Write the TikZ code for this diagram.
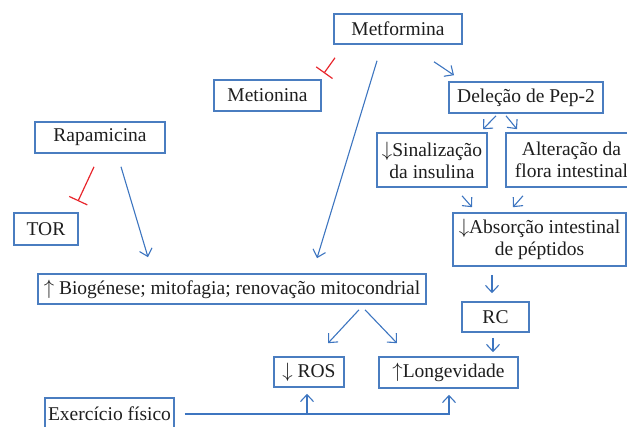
\documentclass[tikz,border=0pt]{standalone}
\usepackage{fontspec}
\setmainfont{Liberation Serif}
\usetikzlibrary{arrows.meta,calc}
\definecolor{frame}{HTML}{4A7DC0}
\definecolor{link}{HTML}{3D75C0}
\definecolor{stopred}{HTML}{E8262C}
\definecolor{ink}{HTML}{1E1E1E}
\newcommand{\up}{$\uparrow$}
\newcommand{\down}{$\downarrow$}

\begin{document}
\begin{tikzpicture}[x=1pt,y=-1pt,
  box/.style={draw=frame,line width=1.6pt,inner sep=0pt,align=center,text=ink,font=\fontsize{19.5}{22}\selectfont},
  arr/.style={link,line width=1.1pt,-{Straight Barb[length=7pt,width=13pt]}},
  inhib/.style={stopred,line width=1.2pt,-{Bar[width=20pt]}}]
\useasboundingbox (0,0) rectangle (627,427);
% drugs and targets
\node[box,minimum width=128pt,minimum height=30pt] (metf) at (398,29) {Metformina};
\node[box,minimum width=107pt,minimum height=31pt] (meti) at (267.5,95.5) {Metionina};
\node[box,minimum width=154pt,minimum height=31pt] (del) at (526,97.5) {Deleção de Pep-2};
\node[box,minimum width=130pt,minimum height=31pt] (rapa) at (100,137.5) {Rapamicina};
\node[box,minimum width=64pt,minimum height=32pt] (tor) at (46,229) {TOR};
\node[box,minimum width=110pt,minimum height=54pt] (sin) at (432,160) {\down Sinalização\\da insulina};
\node[box,minimum width=131pt,minimum height=54pt] (alt) at (571.5,160) {Alteração da\\flora intestinal};
\node[box,minimum width=173pt,minimum height=53pt] (abs) at (539.5,239.5) {\down Absorção intestinal\\de péptidos};
% effects
\node[box,minimum width=388pt,minimum height=30pt] (bio) at (232,289) {\up\ Biogénese; mitofagia; renovação mitocondrial};
\node[box,minimum width=67pt,minimum height=30pt] (rc) at (495.5,317) {RC};
\node[box,minimum width=70pt,minimum height=30pt] (ros) at (309,372) {\down\ ROS};
\node[box,minimum width=139pt,minimum height=31pt] (long) at (448.5,372.5) {\up Longevidade};
\node[box,minimum width=129pt,minimum height=32pt] (exer) at (109.5,414) {Exercício físico};
% inhibitions
\draw[inhib] ([xshift=-63pt,yshift=-13pt]metf.south) -- ([xshift=56.5pt,yshift=6pt]meti.north);
\draw[inhib] ([xshift=-6pt,yshift=-13pt]rapa.south) -- ([xshift=32pt,yshift=11pt]tor.north);
% activations
\draw[arr] ([xshift=-21pt,yshift=-16pt]metf.south) -- ([xshift=85pt,yshift=15pt]bio.north);
\draw[arr] ([xshift=36pt,yshift=-17pt]metf.south) -- ([xshift=-72pt,yshift=6pt]del.north);
\draw[arr] ([xshift=-30pt,yshift=-2pt]del.south) -- ([xshift=51pt,yshift=3pt]sin.north);
\draw[arr] ([xshift=-20pt,yshift=-2pt]del.south) -- ([xshift=-54.5pt,yshift=3pt]alt.north);
\draw[arr] ([xshift=30pt,yshift=-8pt]sin.south) -- ([xshift=-67.5pt,yshift=5pt]abs.north);
\draw[arr] ([xshift=-48.5pt,yshift=-8pt]alt.south) -- ([xshift=-26.5pt,yshift=5pt]abs.north);
\draw[arr] ([xshift=-47.5pt,yshift=-8pt]abs.south) -- ([xshift=-3.5pt,yshift=8pt]rc.north);
\draw[arr] ([xshift=-2.5pt,yshift=-5pt]rc.south) -- ([xshift=44.5pt,yshift=4pt]long.north);
\draw[arr] ([xshift=21pt,yshift=-13pt]rapa.south) -- ([xshift=-84pt,yshift=16pt]bio.north);
\draw[arr] ([xshift=127pt,yshift=-5pt]bio.south) -- ([xshift=19pt,yshift=13pt]ros.north);
\draw[arr] ([xshift=133pt,yshift=-5pt]bio.south) -- ([xshift=-51.5pt,yshift=13pt]long.north);
\draw[arr] ([xshift=10pt]exer.east) -| ([xshift=-2pt,yshift=-6pt]ros.south);
\draw[arr] ([xshift=10pt]exer.east) -| ([xshift=0.5pt,yshift=-6pt]long.south);
\end{tikzpicture}
\end{document}
